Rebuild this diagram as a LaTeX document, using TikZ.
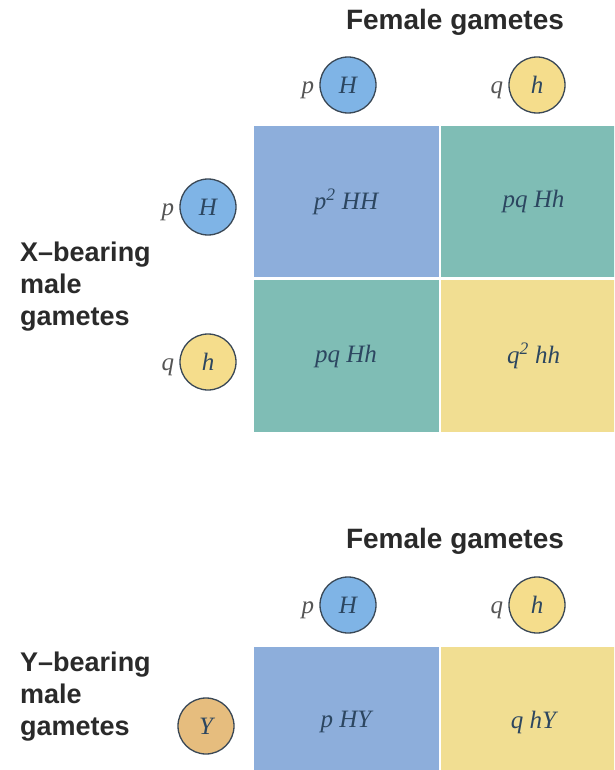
\documentclass[tikz,border=0pt]{standalone}
\usepackage{fontspec}
\setmainfont{Liberation Serif}
\setsansfont{Liberation Sans}
\definecolor{cellblue}{HTML}{8DAEDB}
\definecolor{cellteal}{HTML}{7FBDB5}
\definecolor{cellyellow}{HTML}{F1DE92}
\definecolor{ballblue}{HTML}{7FB4E6}
\definecolor{ballyellow}{HTML}{F5DD8C}
\definecolor{balltan}{HTML}{E6BD7E}
\definecolor{ballline}{HTML}{3A4856}
\definecolor{celltext}{HTML}{2C4660}
\definecolor{labeltext}{HTML}{2A2A2A}
\tikzset{
  cell/.style={rectangle, inner sep=0pt, minimum width=185pt, font=\fontsize{25}{28}\selectfont\itshape, text=celltext},
  ball/.style={circle, draw=ballline, line width=1.3pt, minimum size=56pt, inner sep=0pt, font=\fontsize{25}{28}\selectfont\itshape, text=celltext},
  freq/.style={font=\fontsize{25}{28}\selectfont\itshape, text=labeltext!80!white, anchor=base east, inner sep=0pt},
  heading/.style={font=\sffamily\bfseries\fontsize{28}{32}\selectfont, text=labeltext},
  sidelabel/.style={font=\sffamily\bfseries\fontsize{27}{32}\selectfont, text=labeltext, align=left, anchor=west, inner sep=0pt}
}
\begin{document}
\begin{tikzpicture}[x=1pt,y=-1pt]
\fill[white] (0,0) rectangle (614,770);
\useasboundingbox (0,0) rectangle (614,770);
\clip (0,0) rectangle (614,770);

% ---- X-bearing male gametes ----
\node[heading] (fem1) at (455,22) {Female gametes};

\node[ball, fill=ballblue] (fH1) at (348,85) {H};
\node[freq] (fp1) at ([xshift=-5pt]fH1.west |- fH1.base) {p};
\node[ball, fill=ballyellow] (fh1) at (537,85) {h};
\node[freq] (fq1) at ([xshift=-5pt]fh1.west |- fh1.base) {q};

\node[cell, fill=cellblue, minimum height=151pt] (c11) at (346,201.5) {p\textsuperscript{2} HH};
\node[cell, fill=cellteal, minimum height=151pt] (c12) at (533.5,201.5) {pq Hh};
\node[cell, fill=cellteal, minimum height=152pt] (c21) at (346,356) {pq Hh};
\node[cell, fill=cellyellow, minimum height=152pt] (c22) at (533.5,356) {q\textsuperscript{2} hh};

\node[ball, fill=ballblue] (mH) at (208,207) {H};
\node[freq] (mp) at ([xshift=-5pt]mH.west |- mH.base) {p};
\node[ball, fill=ballyellow] (mh) at (208,362) {h};
\node[freq] (mq) at ([xshift=-5pt]mh.west |- mh.base) {q};

\node[sidelabel] (xlab) at (20,287) {X–bearing\\male\\gametes};

% ---- Y-bearing male gametes ----
\node[heading] (fem2) at (455,541) {Female gametes};

\node[ball, fill=ballblue] (fH2) at (348,605) {H};
\node[freq] (fp2) at ([xshift=-5pt]fH2.west |- fH2.base) {p};
\node[ball, fill=ballyellow] (fh2) at (537,605) {h};
\node[freq] (fq2) at ([xshift=-5pt]fh2.west |- fh2.base) {q};

\node[cell, fill=cellblue, minimum height=150pt] (d1) at (346,722) {p HY};
\node[cell, fill=cellyellow, minimum height=150pt] (d2) at (533.5,722) {q hY};

\node[ball, fill=balltan] (mY) at (206,726) {Y};
\node[sidelabel] (ylab) at (20,697) {Y–bearing\\male\\gametes};
\end{tikzpicture}
\end{document}
